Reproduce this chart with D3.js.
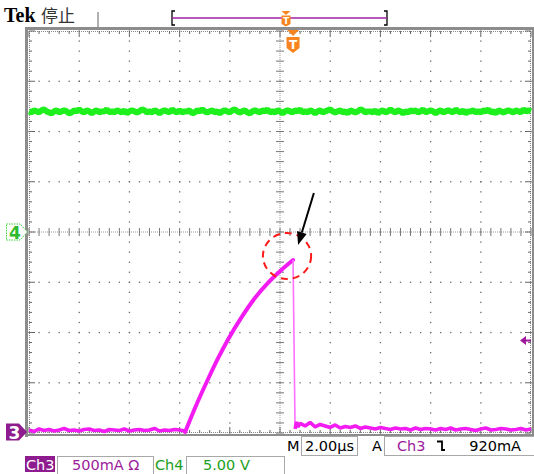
<!DOCTYPE html>
<html><head><meta charset="utf-8">
<script src="https://cdn.jsdelivr.net/npm/d3@7"></script>
<style>html,body{margin:0;padding:0;background:#fff;}svg{display:block;}</style>
</head><body>
<svg id="c" width="534" height="474"></svg>
<script>
// ---------- DATA ----------
// Ch3 (current, mA) baseline before the ramp, sampled every 0.2 µs from -10 µs
const ch3PreCurrent = [30,15,40,25,35,20,30,45,25,30,20,35,40,25,30,15,35,30,25,40,20,30,35,25,30,45,20,30,25,35,30,20];
// Ch3 ramp up to the peak (time µs, current mA)
const ch3RampTime    = [-3.78,-3.39,-2.87,-2.47,-2.07,-1.51,-1.0,-0.48,0,0.52];
const ch3RampCurrent = [10,247,535,742,930,1160,1343,1494,1610,1721];
// Ch3 fall and ringing (time µs, current mA)
const ch3FallTime    = [0.52,0.6,0.66,0.72];
const ch3FallCurrent = [1721,40,110,60];
// Ch3 after the fall, sampled every 0.2 µs from 0.8 µs
const ch3PostCurrent = [95,70,105,60,85,70,55,80,50,65,55,70,45,60,50,40,55,45,35,50,40,45,30,50,35,45,40,30,45,35,50,30,40,45,35,25,40,50,30,35,45,40,30,35,45,30,40];
// Ch4 (voltage, V), sampled every 0.1 µs from -10 µs
const ch4Voltage = [
 12.0,11.9,12.1,12.0,11.9,12.1,12.2,12.0,11.9,11.8,12.0,12.1,11.9,12.0,12.1,12.0,11.8,11.9,12.1,12.0,
 12.2,12.0,11.9,12.1,12.0,11.8,12.0,12.1,11.9,12.0,12.0,12.2,11.9,12.0,11.9,12.1,12.0,11.9,12.1,11.8,
 12.0,12.1,12.0,11.9,12.0,12.2,12.1,11.9,12.0,11.9,12.1,12.0,11.8,12.0,12.1,12.0,11.9,12.2,12.0,11.9,
 12.1,11.9,12.0,12.0,12.1,11.8,11.9,12.1,12.0,12.2,12.0,11.9,12.0,12.1,11.9,12.0,11.8,12.0,12.1,12.0,
 11.9,12.1,12.2,12.0,11.9,12.0,12.1,11.9,11.8,12.0,12.1,12.0,11.9,12.1,12.0,12.2,11.9,12.0,11.9,12.1,
 12.0,11.8,12.0,12.1,12.0,11.9,12.1,12.0,12.2,11.9,12.0,11.9,12.1,12.0,11.8,12.0,12.1,11.9,12.0,12.1,
 12.2,12.0,11.9,12.0,12.1,11.9,12.0,11.8,12.1,12.0,11.9,12.0,12.2,12.1,11.9,12.0,12.0,11.9,12.1,11.8,
 12.0,12.1,11.9,12.0,12.2,12.0,11.9,12.1,12.0,11.8,12.0,11.9,12.1,12.0,12.1,11.9,12.0,12.2,11.9,12.0,
 12.1,12.0,11.8,12.0,12.1,11.9,12.0,12.1,12.0,11.9,12.2,12.0,11.9,12.1,11.8,12.0,12.0,12.1,11.9,12.0,
 11.9,12.1,12.0,12.2,11.9,12.0,11.8,12.1,12.0,11.9,12.0,12.1,12.0,11.9,12.1,12.0,11.9,12.2,12.0,12.1,
 12.0];
// Trigger & annotation (data space)
const triggerTime = 0.52;        // µs
const triggerLevel = 920;        // mA
const circleAnno = {t:0.28, i:1761, rt:0.96, ri:229};
const arrowAnno  = {t0:1.35, i0:2388, t1:0.72, i1:1871};
// Labels
const titleLabels = ["Tek", "停止"];
const statusRow1 = ["M", "2.00µs", "A", "Ch3", "920mA"];
const statusRow2 = ["Ch3", "500mA Ω", "Ch4", "5.00 V"];

// ---------- SCALES ----------
const svg = d3.select('#c');
const X0 = 29, X1 = 531, Y0 = 31, Y1 = 433;
const x  = d3.scaleLinear().domain([-10, 10]).range([X0, X1]);
const y3 = d3.scaleLinear().domain([0, 4000]).range([Y1, Y0]);   // 500 mA/div
const y4 = d3.scaleLinear().domain([-20, 20]).range([Y1, Y0]);   // 5 V/div

const majorT = d3.range(-10, 10.001, 2), minorT = d3.range(-10, 10.001, 0.4);
const majorI = d3.range(0, 4000.1, 500), minorI = d3.range(0, 4000.1, 100);

// ---------- FRAME ----------
const grey = '#8c8c8c';
svg.append('rect').attr('x',25).attr('y',27).attr('width',509).attr('height',3).attr('fill',grey);
svg.append('rect').attr('x',25).attr('y',27).attr('width',3).attr('height',410).attr('fill',grey);
svg.append('rect').attr('x',25).attr('y',434).attr('width',509).attr('height',2).attr('fill',grey);
svg.append('rect').attr('x',532).attr('y',27).attr('width',2).attr('height',409).attr('fill',grey);

const g = svg.append('g');
const dotC = '#6a6a6a';
majorT.filter(t => Math.abs(t) > 0.01 && Math.abs(t) < 9.99).forEach(t => {
  minorI.forEach(i => g.append('rect').attr('x', x(t)-0.6).attr('y', y3(i)-0.6).attr('width',1.3).attr('height',1.3).attr('fill',dotC));
});
majorI.filter(i => i > 1 && i < 3999 && Math.abs(i-2000) > 1).forEach(i => {
  minorT.forEach(t => g.append('rect').attr('x', x(t)-0.6).attr('y', y3(i)-0.6).attr('width',1.3).attr('height',1.3).attr('fill',dotC));
});
g.append('line').attr('x1',x(0)).attr('x2',x(0)).attr('y1',Y0).attr('y2',Y1).attr('stroke','#9a9a9a').attr('stroke-dasharray','1,1');
g.append('line').attr('x1',X0).attr('x2',X1).attr('y1',y3(2000)).attr('y2',y3(2000)).attr('stroke','#9a9a9a').attr('stroke-dasharray','1,1');
minorI.forEach(i => g.append('line').attr('x1',x(0)-4).attr('x2',x(0)+4).attr('y1',y3(i)).attr('y2',y3(i)).attr('stroke','#777').attr('stroke-width',1));
minorT.forEach(t => g.append('line').attr('x1',x(t)).attr('x2',x(t)).attr('y1',y3(2000)-4).attr('y2',y3(2000)+4).attr('stroke','#777').attr('stroke-width',1));
[Y0+0.5, Y1-0.5].forEach(yy => g.append('line').attr('x1',X0).attr('x2',X1).attr('y1',yy).attr('y2',yy).attr('stroke','#888').attr('stroke-dasharray','1,1'));
[X0+0.5, X1-0.5].forEach(xx => g.append('line').attr('x1',xx).attr('x2',xx).attr('y1',Y0).attr('y2',Y1).attr('stroke','#888').attr('stroke-dasharray','1,1'));
minorT.forEach(t => {
  const L = majorT.some(m => Math.abs(m-t) < 0.01) ? 6 : 3;
  g.append('line').attr('x1',x(t)).attr('x2',x(t)).attr('y1',Y0).attr('y2',Y0+L).attr('stroke','#666');
  g.append('line').attr('x1',x(t)).attr('x2',x(t)).attr('y1',Y1-L).attr('y2',Y1).attr('stroke','#666');
});
minorI.forEach(i => {
  const L = majorI.some(m => Math.abs(m-i) < 1) ? 6 : 3;
  g.append('line').attr('x1',X0).attr('x2',X0+L).attr('y1',y3(i)).attr('y2',y3(i)).attr('stroke','#666');
  g.append('line').attr('x1',X1-L).attr('x2',X1).attr('y1',y3(i)).attr('y2',y3(i)).attr('stroke','#666');
});

// ---------- TRACES ----------
const ch4Pts = ch4Voltage.map((v, k) => [-10 + k*0.1, v]);
svg.append('path').datum(ch4Pts)
  .attr('d', d3.line().x(d => x(d[0])).y(d => y4(d[1])))
  .attr('fill','none').attr('stroke','#1ef01e').attr('stroke-width',6).attr('stroke-linejoin','bevel');

const mag = '#f21cf2';
const preRamp = ch3PreCurrent.map((c, k) => [-10 + k*0.2, c]);
const ramp = ch3RampTime.map((t, k) => [t, ch3RampCurrent[k]]);
const fall = ch3FallTime.map((t, k) => [t, ch3FallCurrent[k]]);
const post = [fall[fall.length-1]].concat(ch3PostCurrent.map((c, k) => [0.8 + k*0.2, c]));
const lineLin = d3.line().x(d => x(d[0])).y(d => y3(d[1]));
const lineSmooth = d3.line().x(d => x(d[0])).y(d => y3(d[1])).curve(d3.curveMonotoneX);
svg.append('path').datum(preRamp.concat([ramp[0]])).attr('d', lineLin)
  .attr('fill','none').attr('stroke',mag).attr('stroke-width',3.6).attr('stroke-linejoin','bevel');
svg.append('path').datum(ramp).attr('d', lineSmooth)
  .attr('fill','none').attr('stroke',mag).attr('stroke-width',4).attr('stroke-linecap','round');
svg.append('path').datum(fall.slice(0,2)).attr('d', lineLin)
  .attr('fill','none').attr('stroke','#ff70ff').attr('stroke-width',1.6);
svg.append('path').datum(fall.slice(1).concat(post)).attr('d', lineLin)
  .attr('fill','none').attr('stroke',mag).attr('stroke-width',3.6).attr('stroke-linejoin','bevel');

// ---------- ANNOTATIONS ----------
svg.append('ellipse')
  .attr('cx', x(circleAnno.t)).attr('cy', y3(circleAnno.i))
  .attr('rx', x(circleAnno.rt) - x(0)).attr('ry', y3(0) - y3(circleAnno.ri))
  .attr('fill','none').attr('stroke','#ff1a1a').attr('stroke-width',2).attr('stroke-dasharray','7,5');
{
  const ax0 = x(arrowAnno.t0), ay0 = y3(arrowAnno.i0), ax1 = x(arrowAnno.t1), ay1 = y3(arrowAnno.i1);
  const ang = Math.atan2(ay1-ay0, ax1-ax0), hl = 13, hw = 5;
  const bx = ax1 - hl*Math.cos(ang), by = ay1 - hl*Math.sin(ang);
  svg.append('line').attr('x1',ax0).attr('y1',ay0).attr('x2',bx).attr('y2',by).attr('stroke','#000').attr('stroke-width',2);
  svg.append('path').attr('d', `M${ax1},${ay1}L${bx + hw*Math.sin(ang)},${by - hw*Math.cos(ang)}L${bx - hw*Math.sin(ang)},${by + hw*Math.cos(ang)}Z`).attr('fill','#000');
}

// ---------- MARKERS ----------
const orange = '#f7841e', purple = '#8e1c8e', green = '#1b9e1b';
{
  const tx = x(triggerTime);
  svg.append('path').attr('d', `M${tx-6},30L${tx+6},30L${tx},36Z`).attr('fill',orange);
  svg.append('path').attr('d', `M${tx-6.5},37H${tx+6.5}V48L${tx},53L${tx-6.5},48Z`).attr('fill',orange);
  svg.append('text').attr('x',tx).attr('y',49).attr('text-anchor','middle').attr('font-family','DejaVu Sans').attr('font-weight','bold').attr('font-size',12).attr('fill','#fff').text('T');
}
svg.append('line').attr('x1',98).attr('x2',98).attr('y1',12).attr('y2',27).attr('stroke','#b0b0b0').attr('stroke-width',2);
svg.append('path').attr('d','M175,11H172V25H175').attr('fill','none').attr('stroke','#000').attr('stroke-width',1.3);
svg.append('path').attr('d','M384,11H387V25H384').attr('fill','none').attr('stroke','#000').attr('stroke-width',1.3);
svg.append('line').attr('x1',172).attr('x2',387).attr('y1',18).attr('y2',18).attr('stroke','#a020a0').attr('stroke-width',1.6);
svg.append('path').attr('d','M281.5,11H290.5L286,15Z').attr('fill',orange);
svg.append('path').attr('d','M281.5,15.5H290.5V24L286,26.5L281.5,24Z').attr('fill',orange);
svg.append('text').attr('x',286).attr('y',24).attr('text-anchor','middle').attr('font-family','DejaVu Sans').attr('font-weight','bold').attr('font-size',9).attr('fill','#fff').text('T');
{
  const ty = y3(triggerLevel);
  svg.append('path').attr('d',`M520,${ty}L526,${ty-4.5}L526,${ty+4.5}Z`).attr('fill','#a0189c');
  svg.append('line').attr('x1',525).attr('x2',531).attr('y1',ty).attr('y2',ty).attr('stroke','#a0189c').attr('stroke-width',2);
}
{
  const my = y4(0);
  svg.append('path').attr('d',`M6.5,${my-8}H20L27.5,${my}L20,${my+8}H6.5Z`).attr('fill','#fff').attr('stroke','#3ccf3c').attr('stroke-width',1).attr('stroke-dasharray','1.5,1');
  svg.append('text').attr('x',15).attr('y',my+6.5).attr('text-anchor','middle').attr('font-family','DejaVu Sans').attr('font-weight','bold').attr('font-size',17).attr('fill','#2dbb2d').text('4');
}
{
  const my = y3(0) - 1;
  svg.append('path').attr('d',`M6,${my-8.5}H19L27,${my}L19,${my+8.5}H6Z`).attr('fill',purple);
  svg.append('text').attr('x',14.5).attr('y',my+6.5).attr('text-anchor','middle').attr('font-family','DejaVu Sans').attr('font-weight','bold').attr('font-size',17).attr('fill','#fff').text('3');
}

// ---------- TEXT ----------
svg.append('text').attr('x',4).attr('y',22).attr('font-family','Liberation Serif').attr('font-weight','bold').attr('font-size',20).attr('fill','#000').text(titleLabels[0]);
svg.append('text').attr('x',41).attr('y',22).attr('font-family','Noto Sans CJK SC').attr('font-size',17).attr('fill','#333').text(titleLabels[1]);

const FF = 'DejaVu Sans', FS = 14.5;
const boxC = '#a8a8a8';
svg.append('rect').attr('x',301.5).attr('y',436.5).attr('width',56).attr('height',19).attr('fill','none').attr('stroke',boxC);
svg.append('rect').attr('x',384.5).attr('y',436.5).attr('width',160).attr('height',19).attr('fill','none').attr('stroke',boxC);
svg.append('text').attr('x',287).attr('y',451).attr('font-family',FF).attr('font-size',FS).attr('fill','#000').text(statusRow1[0]);
svg.append('text').attr('x',305).attr('y',451).attr('font-family',FF).attr('font-size',FS).attr('fill','#000').text(statusRow1[1]);
svg.append('text').attr('x',372).attr('y',451).attr('font-family',FF).attr('font-size',FS).attr('fill','#000').text(statusRow1[2]);
svg.append('text').attr('x',397).attr('y',451).attr('font-family',FF).attr('font-size',FS).attr('fill','#9b1b9b').text(statusRow1[3]);
svg.append('path').attr('d','M437,441.5H442V450H445').attr('fill','none').attr('stroke','#000').attr('stroke-width',1.8);
svg.append('text').attr('x',521).attr('y',451).attr('text-anchor','end').attr('font-family',FF).attr('font-size',FS).attr('fill','#000').text(statusRow1[4]);
svg.append('rect').attr('x',25).attr('y',456).attr('width',30).attr('height',16).attr('fill',purple);
svg.append('rect').attr('x',57.5).attr('y',456.5).attr('width',96).attr('height',19).attr('fill','none').attr('stroke',boxC);
svg.append('rect').attr('x',186.5).attr('y',456.5).attr('width',98).attr('height',19).attr('fill','none').attr('stroke',boxC);
svg.append('text').attr('x',26).attr('y',469.5).attr('font-family',FF).attr('font-size',FS).attr('fill','#fff').text(statusRow2[0]);
svg.append('text').attr('x',72).attr('y',469.5).attr('font-family',FF).attr('font-size',FS).attr('fill','#9b1b9b').text(statusRow2[1]);
svg.append('text').attr('x',155).attr('y',469.5).attr('font-family',FF).attr('font-size',FS).attr('fill',green).text(statusRow2[2]);
svg.append('text').attr('x',203).attr('y',469.5).attr('font-family',FF).attr('font-size',FS).attr('fill',green).text(statusRow2[3]);
</script>
</body></html>
